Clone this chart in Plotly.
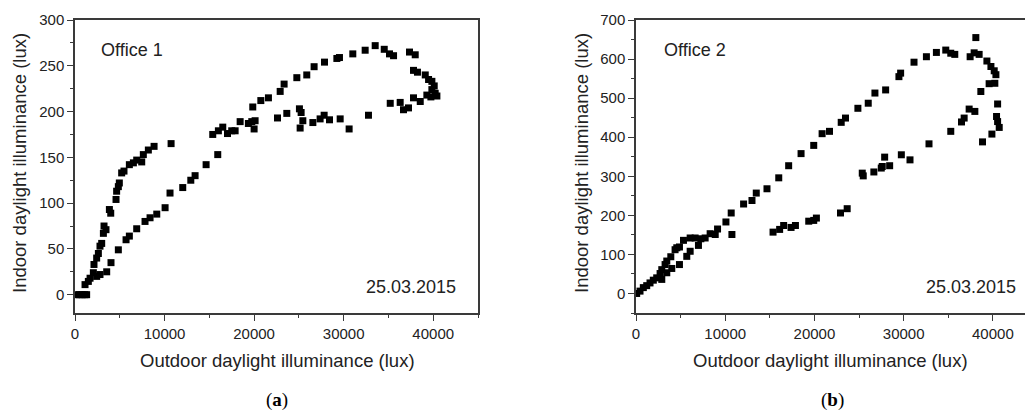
import plotly.graph_objects as go

# Office 1 (panel a): outdoor vs indoor daylight illuminance, lux
office1_out = [200, 500, 800, 1100, 1300, 1120, 1490, 1680, 2050, 2120, 2420, 2610, 2790, 2980,
               3170, 3240, 3460, 3840, 3990, 4580, 4650, 4840, 4950, 5210, 5470, 6070, 6520,
               6890, 7450, 7630, 8190, 8830, 10730,
               2420, 2790, 3540, 4020, 4840, 5700, 6070, 6890, 7820, 8380, 9130, 10060, 10610,
               12030, 12930, 13410, 14640, 15940,
               15380, 16010, 16500, 17030, 17500, 17880, 18440, 19360, 19740, 20110, 20000,
               19850, 20750, 21600, 22910, 23350, 24770, 25880, 26700, 27860, 29240, 29530,
               31020, 32400, 33520, 34530, 35120, 35570, 37350, 37990, 37800, 38240, 39110,
               39480, 39850, 40110, 39850, 40220, 40410, 39740, 39290, 38550, 37800, 37240,
               36680, 36310, 35200, 32770, 30610, 29610, 28420, 27820, 27370, 26560, 25440,
               25250, 25140, 25060, 23650, 22610]
office1_in = [0, 0, 0, 0, 0, 11, 14.5, 18, 24, 33, 40, 45, 53, 56,
              67, 75, 71, 93, 89, 104, 113, 118, 122, 133, 135, 142, 144,
              147, 145, 153, 158, 162, 165,
              20, 22, 25, 35, 49, 60, 64, 72, 80, 84, 88, 95, 111,
              117, 125, 130, 142, 153,
              175, 179, 183, 176, 179, 179, 189, 187, 189, 190, 181,
              205, 212, 215, 222, 230, 237, 240, 249, 254, 258, 259,
              263, 267, 272, 268, 263, 261, 265, 262, 245, 243, 240,
              235, 233, 228, 224, 220, 217, 216, 218, 211, 215, 204,
              202, 210, 209, 196, 181, 192, 191, 196, 192, 188, 190,
              199, 182, 203, 198, 193]

# Office 2 (panel b)
office2_out = [75, 450, 820, 1200, 1570, 1940, 2320, 2700, 2890, 3260, 3450, 3900, 4380, 4570,
               4870, 5320, 6070, 6630, 7270, 7750, 8310, 8880, 9140, 10080, 10750, 10670,
               12060, 13000, 13480, 14680, 16000, 17110, 18500, 19920, 20860, 21690, 23000,
               23480, 24870, 26030, 26780, 27980, 29470, 29660, 31160, 32550, 33670, 34720,
               35280, 35730, 37450, 37900, 38090, 38460, 39330, 39780, 40150, 40340, 40220,
               39580, 38650, 40530, 40410, 40530, 40710, 39890, 38840, 37340, 37980, 36780,
               36480, 35280, 32840, 30710, 29740, 28430, 27870, 27490, 27600, 26660, 25360,
               25470, 23670, 22920, 20220, 19920, 19360, 17870, 17380, 16550, 16100, 15360,
               2890, 3450, 4010, 4870, 5690, 6070, 7000]
office2_in = [0, 6, 15, 20, 27, 34, 40, 51, 61, 74, 83, 94, 112, 117,
              119, 136, 142, 142, 140, 142, 153, 151, 165, 183, 151, 206,
              229, 238, 257, 268, 296, 327, 358, 379, 409, 415, 438,
              449, 474, 487, 513, 521, 555, 564, 592, 606, 617, 623,
              615, 612, 606, 616, 655, 612, 595, 581, 570, 560, 538,
              537, 517, 485, 453, 440, 425, 408, 388, 472, 466, 449,
              439, 415, 383, 342, 355, 327, 349, 321, 325, 311, 308,
              301, 217, 206, 193, 187, 185, 174, 169, 174, 164, 157,
              36, 53, 64, 74, 95, 108, 123]

x_ticks = [0, 10000, 20000, 30000, 40000]

W, H = 1025, 414
FONT = "Liberation Sans, Arial, sans-serif"
AXCOL = "#3a3a3a"


def px(x):
    return x / W


def py(y):
    return 1 - y / H


fig = go.Figure()
fig.add_trace(go.Scatter(x=office1_out, y=office1_in, mode="markers", xaxis="x", yaxis="y",
                         marker=dict(symbol="square", size=7, color="black"), showlegend=False))
fig.add_trace(go.Scatter(x=office2_out, y=office2_in, mode="markers", xaxis="x2", yaxis="y2",
                         marker=dict(symbol="square", size=7, color="black"), showlegend=False))

common_x = dict(tickvals=x_ticks, tickformat="d", ticks="outside", ticklen=6, tickwidth=1,
                tickcolor=AXCOL, automargin=False,
                showline=True, linecolor=AXCOL, linewidth=1.5, showgrid=False, zeroline=False,
                tickfont=dict(family=FONT, size=15, color="#222"),
                minor=dict(dtick=5000, ticks="outside", ticklen=3, tickcolor=AXCOL))
common_y = dict(ticks="outside", ticklen=6, tickwidth=1, tickcolor=AXCOL, automargin=False,
                showline=True, linecolor=AXCOL, linewidth=1.5, showgrid=False, zeroline=False,
                tickfont=dict(family=FONT, size=15, color="#222"))

fig.update_layout(
    width=W, height=H, margin=dict(l=0, r=0, t=0, b=0),
    paper_bgcolor="white", plot_bgcolor="white",
    xaxis=dict(domain=[px(75), px(478)], range=[0, 45000], anchor="y", mirror=True, **common_x),
    yaxis=dict(domain=[py(313), py(20)], range=[-20, 300], anchor="x", mirror=True, dtick=50,
               minor=dict(dtick=25, ticks="outside", ticklen=3, tickcolor=AXCOL), **common_y),
    xaxis2=dict(domain=[px(636), 1.0], range=[0, 43600], anchor="y2", mirror=True, **common_x),
    yaxis2=dict(domain=[py(313), py(20)], range=[-50, 700], anchor="x2", dtick=100,
                minor=dict(dtick=50, ticks="outside", ticklen=3, tickcolor=AXCOL), **common_y),
)

ann = [
    (px(99), py(50), "Office 1", "left", 0, 18),
    (px(662), py(50), "Office 2", "left", 0, 18),
    (px(458), py(287), "25.03.2015", "right", 0, 18),
    (px(1018), py(287), "25.03.2015", "right", 0, 18),
    (px(277), py(360), "Outdoor daylight illuminance (lux)", "center", 0, 18.5),
    (px(830), py(360), "Outdoor daylight illuminance (lux)", "center", 0, 18.5),
    (px(19), py(163), "Indoor daylight illuminance (lux)", "center", -90, 18.5),
    (px(581), py(163), "Indoor daylight illuminance (lux)", "center", -90, 18.5),
]
for x, y, t, al, ang, sz in ann:
    fig.add_annotation(x=x, y=y, xref="paper", yref="paper", text=t, showarrow=False,
                       xanchor=al, yanchor="middle", textangle=ang,
                       font=dict(family=FONT, size=sz, color="#222"))

for x, lab in [(px(277), "a"), (px(832), "b")]:
    fig.add_annotation(x=x, y=py(400), xref="paper", yref="paper", text="(<b>" + lab + "</b>)",
                       showarrow=False, xanchor="center", yanchor="middle",
                       font=dict(family="Liberation Serif, serif", size=19, color="black"))

# the browser's default 8px body margin would push the fixed-size figure off the window
fig.write_html("out.html", config={"displayModeBar": False},
               post_script="document.body.style.margin='0';")
